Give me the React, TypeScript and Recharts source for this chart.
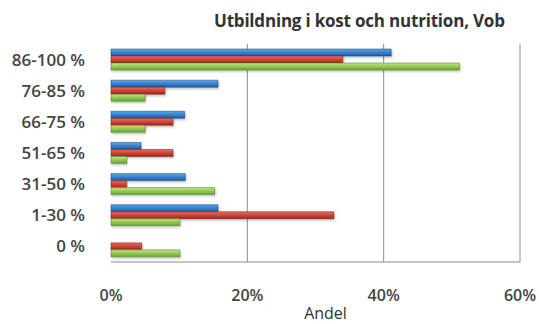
import { BarChart, Bar, XAxis, YAxis, CartesianGrid } from 'recharts';

// share of respondents per completion band, in percent
const categories = ['86-100 %', '76-85 %', '66-75 %', '51-65 %', '31-50 %', '1-30 %', '0 %'];
const blueValues = [41.1, 15.7, 10.8, 4.4, 10.9, 15.7, 0];
const redValues = [34.0, 7.9, 9.1, 9.1, 2.3, 32.7, 4.5];
const greenValues = [51.1, 5.0, 5.0, 2.3, 15.2, 10.1, 10.1];
const xTicks = [0, 20, 40, 60];

const data = categories.map((cat, i) => ({
  cat,
  blue: blueValues[i],
  red: redValues[i],
  green: greenValues[i],
}));

const font = '"Open Sans", sans-serif';

export default function App() {
  return (
    <div style={{ position: 'absolute', left: 0, top: 0, width: 539, height: 324, background: '#fff', fontFamily: font }}>
      <div
        style={{
          position: 'absolute',
          left: 214,
          top: 9,
          fontSize: 17,
          fontWeight: 700,
          color: '#333',
          whiteSpace: 'nowrap',
          letterSpacing: -0.2,
        }}
      >
        Utbildning i kost och nutrition, Vob
      </div>
      <BarChart
        width={539}
        height={324}
        data={data}
        layout="vertical"
        margin={{ top: 44, right: 19, left: 5, bottom: 0 }}
        barGap={0}
      >
        <defs>
          <linearGradient id="gBlue" x1="0" y1="0" x2="0" y2="1">
            <stop offset="0%" stopColor="#5aa6ee" />
            <stop offset="100%" stopColor="#1d5aa8" />
          </linearGradient>
          <linearGradient id="gRed" x1="0" y1="0" x2="0" y2="1">
            <stop offset="0%" stopColor="#ee6a58" />
            <stop offset="100%" stopColor="#a2261d" />
          </linearGradient>
          <linearGradient id="gGreen" x1="0" y1="0" x2="0" y2="1">
            <stop offset="0%" stopColor="#c2e67a" />
            <stop offset="100%" stopColor="#69a734" />
          </linearGradient>
          <filter id="barShadow" x="-5%" y="-50%" width="110%" height="250%">
            <feDropShadow dx="1" dy="1.5" stdDeviation="1" floodColor="#000" floodOpacity="0.25" />
          </filter>
        </defs>
        <CartesianGrid horizontal={false} verticalValues={[20, 40, 60]} stroke="#8c8c8c" />
        <XAxis
          type="number"
          domain={[0, 60]}
          ticks={xTicks}
          tickFormatter={(v) => `${v}%`}
          axisLine={{ stroke: '#8c8c8c' }}
          tickLine={false}
          tickSize={0}
          tickMargin={28}
          height={62}
          tick={{ fill: '#444', fontSize: 16, fontWeight: 600, fontFamily: font }}
          label={{ value: 'Andel', position: 'insideBottom', offset: 5, dx: 10, fill: '#333', fontSize: 16, fontFamily: font }}
        />
        <YAxis
          type="category"
          dataKey="cat"
          width={106}
          axisLine={false}
          tickLine={false}
          tickSize={0}
          tickMargin={26}
          tick={{ fill: '#444', fontSize: 17, fontWeight: 600, fontFamily: font }}
        />
        <Bar dataKey="blue" fill="url(#gBlue)" stroke="#1a3f70" strokeWidth={0.5} filter="url(#barShadow)" barSize={7} isAnimationActive={false} />
        <Bar dataKey="red" fill="url(#gRed)" stroke="#6e1a14" strokeWidth={0.5} filter="url(#barShadow)" barSize={7} isAnimationActive={false} />
        <Bar dataKey="green" fill="url(#gGreen)" stroke="#4a7a24" strokeWidth={0.5} filter="url(#barShadow)" barSize={7} isAnimationActive={false} />
      </BarChart>
    </div>
  );
}
